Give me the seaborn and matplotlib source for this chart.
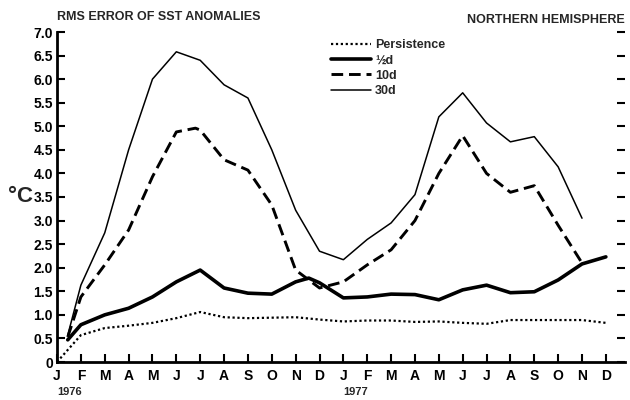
import matplotlib
matplotlib.use("Agg")
import matplotlib.pyplot as plt
import seaborn as sns
import pandas as pd

sns.set_theme(style="white")
plt.rcParams['font.family'] = ['Liberation Sans', 'DejaVu Sans']

# month index: 0 = Jan 1976 ... 23 = Dec 1977
month_labels = ["J", "F", "M", "A", "M", "J", "J", "A", "S", "O", "N", "D",
                "J", "F", "M", "A", "M", "J", "J", "A", "S", "O", "N", "D"]
year_labels = ["1976", "1977"]

pers_x = [0, 1, 2, 3, 4, 5, 6, 7, 8, 9, 10, 11, 12, 13, 14, 15, 16, 17, 18, 19, 20, 21, 22, 23]
pers_y = [0.0, 0.57, 0.72, 0.77, 0.83, 0.93, 1.06, 0.95, 0.93, 0.94, 0.95, 0.90,
          0.86, 0.88, 0.88, 0.85, 0.86, 0.83, 0.81, 0.89, 0.89, 0.89, 0.89, 0.83]

half_x = [0.45, 1, 2, 3, 4, 5, 6, 7, 8, 9, 10, 10.55, 11, 12, 13, 14, 15, 16, 17, 18, 19, 20, 21, 22, 23]
half_y = [0.47, 0.79, 1.0, 1.14, 1.38, 1.70, 1.95, 1.57, 1.46, 1.44, 1.70, 1.78, 1.68,
          1.36, 1.38, 1.44, 1.43, 1.32, 1.53, 1.63, 1.47, 1.49, 1.74, 2.08, 2.23]

d10_x = [0.45, 1, 2, 3, 4, 5, 5.8, 6, 7, 8, 9, 10, 11, 12, 13, 14, 15, 16, 17, 18, 19, 20, 21, 22]
d10_y = [0.53, 1.38, 2.06, 2.8, 3.93, 4.88, 4.96, 4.92, 4.29, 4.07, 3.33, 1.95, 1.57,
         1.70, 2.06, 2.38, 3.0, 4.0, 4.8, 4.0, 3.6, 3.74, 2.9, 2.1]

d30_x = [0.45, 1, 2, 3, 4, 5, 6, 7, 8, 9, 10, 11, 12, 13, 14, 15, 16, 17, 18, 19, 20, 21, 22]
d30_y = [0.57, 1.63, 2.74, 4.5, 6.0, 6.58, 6.4, 5.88, 5.6, 4.5, 3.22, 2.35, 2.17,
         2.6, 2.95, 3.55, 5.2, 5.71, 5.07, 4.67, 4.78, 4.14, 3.05]

fig = plt.figure(figsize=(6.3, 4.0), dpi=100)
ax = fig.add_axes([0.0905, 0.095, 0.9015, 0.825])

sns.lineplot(x=pers_x, y=pers_y, ax=ax, color="black", linewidth=1.6,
             linestyle=(0, (1, 1.2)), label="Persistence")
sns.lineplot(x=half_x, y=half_y, ax=ax, color="black", linewidth=2.6,
             label="\u00bdd")
sns.lineplot(x=d10_x, y=d10_y, ax=ax, color="black", linewidth=2.1,
             linestyle=(0, (4, 2)), label="10d")
sns.lineplot(x=d30_x, y=d30_y, ax=ax, color="black", linewidth=1.1,
             label="30d")

ax.set_xlim(0, 23.8)
ax.set_ylim(0, 7.0)
ax.set_xticks(range(24))
ax.set_xticklabels(month_labels, fontsize=10, fontweight="bold")
yt = [i * 0.5 for i in range(15)]
ax.set_yticks(yt)
ax.set_yticklabels(["0"] + [f"{v:.1f}" for v in yt[1:]], fontsize=10, fontweight="bold")
ax.tick_params(axis="both", direction="in", length=6, width=1.5, pad=3, colors="black")
ax.tick_params(axis="y", right=True, left=True)
ax.tick_params(axis="x", bottom=True, pad=5)
for s in ["top", "right"]:
    ax.spines[s].set_visible(False)
for s in ["left", "bottom"]:
    ax.spines[s].set_linewidth(2.0)
    ax.spines[s].set_color("black")
ax.set_xlabel("")
ax.set_ylabel("")
fig.text(0.033, 0.51, "\u00b0C", ha="center", va="center", fontsize=16, fontweight="bold")

for i, yl in enumerate(year_labels):
    ax.text(i * 12, -0.09, yl, transform=ax.get_xaxis_transform(),
            ha="left", va="center", fontsize=8, fontweight="bold")

fig.text(0.0905, 0.957, "RMS ERROR OF SST ANOMALIES", ha="left", va="center",
         fontsize=9, fontweight="bold")
fig.text(0.992, 0.95, "NORTHERN HEMISPHERE", ha="right", va="center",
         fontsize=9, fontweight="bold")

leg = ax.legend(loc="upper left", bbox_to_anchor=(0.47, 1.0), frameon=False,
                fontsize=9, handlelength=3.2, handletextpad=0.3,
                labelspacing=0.25, borderaxespad=0.2)
for t in leg.get_texts():
    t.set_fontweight("bold")

fig.savefig("out.png", dpi=100)
